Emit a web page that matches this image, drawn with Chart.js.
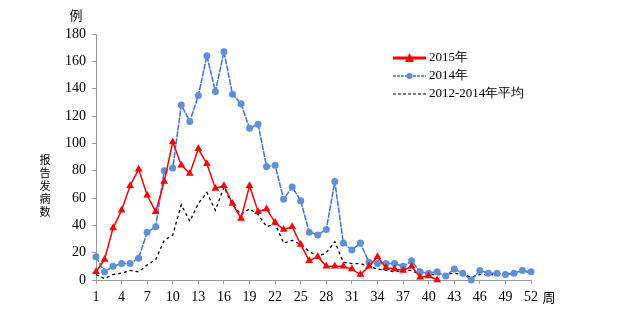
<!DOCTYPE html>
<html>
<head>
<meta charset="utf-8">
<script src="https://cdn.jsdelivr.net/npm/chart.js@4"></script>
<style>
  html, body { margin: 0; padding: 0; background: #fff; }
  #wrap { width: 637px; height: 324px; }
</style>
</head>
<body>
<div id="wrap"><canvas id="chart-1"></canvas></div>
<script>
// data
const weeks = [1,2,3,4,5,6,7,8,9,10,11,12,13,14,15,16,17,18,19,20,21,22,23,24,25,26,
  27,28,29,30,31,32,33,34,35,36,37,38,39,40,41,42,43,44,45,46,47,48,49,50,51,52];
const cases2015 = [6,15,38,51,69,81,62,50,72,101,84,78,96,85,67,69,56,45,69,50,52,42,37,39,26,14,
  17,10,10,10,8,4,10,17,9,8,7,10,2,3,0];
const cases2014 = [17,6,10,12,12,16,35,39,80,82,128,116,135,164,138,167,136,129,111,114,83,84,59,68,58,35,
  33,37,72,27,22,27,13,12,12,12,10,14,6,5,6,3,8,5,0,7,5,5,4,5,7,6];
const avg1214 = [4,1,4,5,7,6,11,15,29,33,55,43,56,64,51,68,55,48,52,48,39,41,27,29,26,21,
  17,20,28,13,12,12,10,8,7,6,7,7,4,4,4,4,5,4,2,4,4,4,4,5,6,6];
const yTicks = [0,20,40,60,80,100,120,140,160,180];

const serif = "'Liberation Serif', 'DejaVu Serif', serif";
const cjk = "'Noto Sans CJK SC', sans-serif";
const RED = "#ff0000";
const BLUE = "#3d6fe6";
const BLUE_PT = "#5d90d8";

// extra labels + legend
const extras = {
  id: "extras",
  afterDraw(chart) {
    const c = chart.ctx;
    c.save();
    c.fillStyle = "#000";
    c.textBaseline = "middle";
    c.font = "13px " + cjk;
    c.textAlign = "center";
    c.fillText("例", 76, 15);
    c.fillText("周", 549, 297);
    // vertical y title
    c.font = "11px " + cjk;
    const title = "报告发病数";
    for (let i = 0; i < title.length; i++) {
      c.fillText(title[i], 45, 160 + i * 13);
    }
    // legend
    const x0 = 393, x1 = 426, tx = 429;
    const rows = [58, 76, 94];
    c.lineWidth = 3;
    c.strokeStyle = RED;
    c.beginPath(); c.moveTo(x0, rows[0]); c.lineTo(x1, rows[0]); c.stroke();
    c.fillStyle = RED;
    c.beginPath();
    c.moveTo(409.5, rows[0] - 5); c.lineTo(414, rows[0] + 4); c.lineTo(405, rows[0] + 4);
    c.closePath(); c.fill();

    c.lineWidth = 1.5;
    c.strokeStyle = BLUE;
    c.setLineDash([3, 1]);
    c.beginPath(); c.moveTo(x0, rows[1]); c.lineTo(x1, rows[1]); c.stroke();
    c.setLineDash([]);
    c.fillStyle = BLUE_PT;
    c.beginPath(); c.arc(409.5, rows[1], 3, 0, Math.PI * 2); c.fill();

    c.strokeStyle = "#000";
    c.lineWidth = 1.2;
    c.setLineDash([3, 2]);
    c.beginPath(); c.moveTo(x0, rows[2]); c.lineTo(x1, rows[2]); c.stroke();
    c.setLineDash([]);

    c.fillStyle = "#000";
    c.textAlign = "left";
    c.font = "13px " + serif;
    const names = ["2015年", "2014年", "2012-2014年平均"];
    names.forEach((n, i) => c.fillText(n, tx, rows[i]));
    c.restore();
  }
};

const ctx1 = document.getElementById("chart-1").getContext("2d");
const myChart = new Chart(ctx1, {
  type: "line",
  data: {
    labels: weeks,
    datasets: [
      {
        label: "2015年",
        data: cases2015,
        borderColor: RED,
        backgroundColor: RED,
        borderWidth: 1.5,
        pointStyle: "triangle",
        pointRadius: 4.5,
        pointBorderWidth: 0,
        tension: 0,
      },
      {
        label: "2014年",
        data: cases2014,
        borderColor: BLUE,
        backgroundColor: BLUE_PT,
        borderWidth: 1.5,
        borderDash: [6, 1],
        pointStyle: "circle",
        pointRadius: 3.5,
        pointBorderWidth: 0,
        tension: 0,
      },
      {
        label: "2012-2014年平均",
        data: avg1214,
        borderColor: "#000",
        borderWidth: 1.3,
        borderDash: [3, 3],
        pointRadius: 0,
        tension: 0,
      },
    ],
  },
  options: {
    responsive: true,
    maintainAspectRatio: false,
    animation: false,
    clip: false,
    layout: { padding: { top: 34, right: 106, bottom: 0, left: 0 } },
    plugins: {
      legend: { display: false },
      tooltip: { enabled: false },
    },
    scales: {
      x: {
        type: "category",
        offset: false,
        afterFit: (s) => { s.height = 44; },
        border: { display: true, color: "#999", dash: [2, 2] },
        grid: {
          drawOnChartArea: false,
          drawTicks: true,
          tickLength: 4,
          color: (ctx) => (ctx.index % 3 === 0 ? "#999" : "rgba(0,0,0,0)"),
        },
        ticks: {
          autoSkip: false,
          maxRotation: 0,
          padding: 5,
          color: "#000",
          font: { family: serif, size: 14 },
          callback: function (v, i) { return i % 3 === 0 ? weeks[i] : ""; },
        },
      },
      y: {
        min: 0,
        max: 180,
        afterFit: (s) => { s.width = 96; },
        afterBuildTicks: (s) => { s.ticks = yTicks.map((v) => ({ value: v })); },
        border: { display: true, color: "#999", dash: [2, 2] },
        grid: { drawOnChartArea: false, drawTicks: true, tickLength: 4, color: "#999" },
        ticks: {
          padding: 6,
          color: "#000",
          font: { family: serif, size: 14 },
        },
      },
    },
  },
  plugins: [extras],
});
</script>
</body>
</html>
